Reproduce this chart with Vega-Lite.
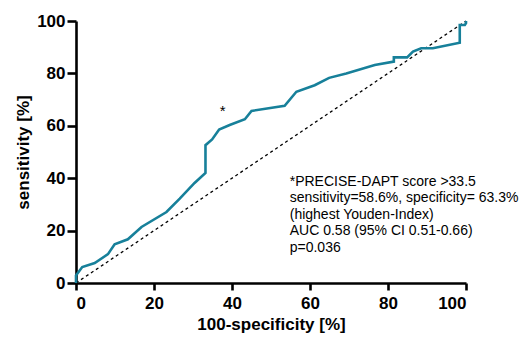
{
  "$schema": "https://vega.github.io/schema/vega-lite/v6.json",
  "autosize": {"type": "none"},
  "width": 390,
  "height": 262,
  "padding": {"left": 76, "top": 21, "right": 55, "bottom": 58},
  "background": "white",
  "config": {
    "view": {"stroke": null},
    "font": "Liberation Sans",
    "axis": {
      "domainColor": "black", "domainWidth": 2.6, "tickColor": "black", "tickWidth": 2.6, "tickSize": 7,
      "labelFont": "Liberation Sans", "labelFontWeight": "bold", "labelFontSize": 17, "labelColor": "black",
      "titleFont": "Liberation Sans", "titleFontWeight": "bold", "titleFontSize": 17, "titleColor": "black",
      "grid": false
    }
  },
  "layer": [
    {
      "data": {"values": [{"x": 0, "y": 0}, {"x": 100, "y": 100}]},
      "mark": {"type": "line", "color": "black", "strokeWidth": 1.3, "strokeDash": [3, 3]},
      "encoding": {
        "x": {"field": "x", "type": "quantitative", "scale": {"domain": [0, 100], "nice": false},
              "axis": {"values": [0, 20, 40, 60, 80, 100], "title": "100-specificity [%]", "titlePadding": 5, "labelPadding": 5}},
        "y": {"field": "y", "type": "quantitative", "scale": {"domain": [0, 100], "nice": false},
              "axis": {"values": [0, 20, 40, 60, 80, 100], "title": "sensitivity [%]", "titlePadding": 4, "labelPadding": 2, "tickSize": 9}}
      }
    },
    {
      "data": {"values": [
        {"x": 0, "y": 0, "o": 0}, {"x": 0, "y": 2.9, "o": 1}, {"x": 1.6, "y": 6.1, "o": 2}, {"x": 4.8, "y": 7.6, "o": 3},
        {"x": 8.2, "y": 11, "o": 4}, {"x": 9.9, "y": 14.8, "o": 5}, {"x": 13.3, "y": 16.7, "o": 6}, {"x": 16.8, "y": 21.4, "o": 7},
        {"x": 23.2, "y": 27.1, "o": 8}, {"x": 26.6, "y": 32.2, "o": 9}, {"x": 30.4, "y": 38.2, "o": 10}, {"x": 33.2, "y": 42, "o": 11},
        {"x": 33.2, "y": 52.6, "o": 12}, {"x": 34.9, "y": 54.8, "o": 13}, {"x": 36.7, "y": 58.6, "o": 14}, {"x": 39.4, "y": 60.3, "o": 15},
        {"x": 43.3, "y": 62.5, "o": 16}, {"x": 45, "y": 65.7, "o": 17}, {"x": 53.5, "y": 67.6, "o": 18}, {"x": 56.5, "y": 73, "o": 19},
        {"x": 61.2, "y": 75.5, "o": 20}, {"x": 64.9, "y": 78.3, "o": 21}, {"x": 69.3, "y": 80, "o": 22}, {"x": 76.6, "y": 83.2, "o": 23},
        {"x": 81.5, "y": 84.5, "o": 24}, {"x": 81.5, "y": 86.1, "o": 25}, {"x": 84.9, "y": 86.1, "o": 26}, {"x": 86.4, "y": 88.3, "o": 27},
        {"x": 88.5, "y": 89.6, "o": 28}, {"x": 91.5, "y": 89.6, "o": 29}, {"x": 98.4, "y": 91.7, "o": 30}, {"x": 98.4, "y": 98.5, "o": 31},
        {"x": 99.7, "y": 98.5, "o": 32}, {"x": 100, "y": 99.2, "o": 33}, {"x": 100, "y": 100, "o": 34}
      ]},
      "mark": {"type": "line", "color": "#17809a", "strokeWidth": 2.6, "strokeJoin": "miter"},
      "encoding": {
        "x": {"field": "x", "type": "quantitative"},
        "y": {"field": "y", "type": "quantitative"},
        "order": {"field": "o", "type": "quantitative"}
      }
    },
    {
      "data": {"values": [{"x": 37.6, "y": 67, "t": "*"}]},
      "mark": {"type": "text", "fontSize": 15, "color": "black", "align": "center", "baseline": "middle", "dy": 4},
      "encoding": {
        "x": {"field": "x", "type": "quantitative"},
        "y": {"field": "y", "type": "quantitative"},
        "text": {"field": "t"}
      }
    },
    {
      "data": {"values": [{"x": 54.8, "y": 37.1, "t": ["*PRECISE-DAPT score >33.5", "sensitivity=58.6%, specificity= 63.3%", "(highest Youden-Index)", "AUC 0.58 (95% CI 0.51-0.66)", "p=0.036"]}]},
      "mark": {"type": "text", "fontSize": 14, "color": "black", "align": "left", "baseline": "alphabetic", "lineHeight": 16.5},
      "encoding": {
        "x": {"field": "x", "type": "quantitative"},
        "y": {"field": "y", "type": "quantitative"},
        "text": {"field": "t"}
      }
    }
  ]
}
